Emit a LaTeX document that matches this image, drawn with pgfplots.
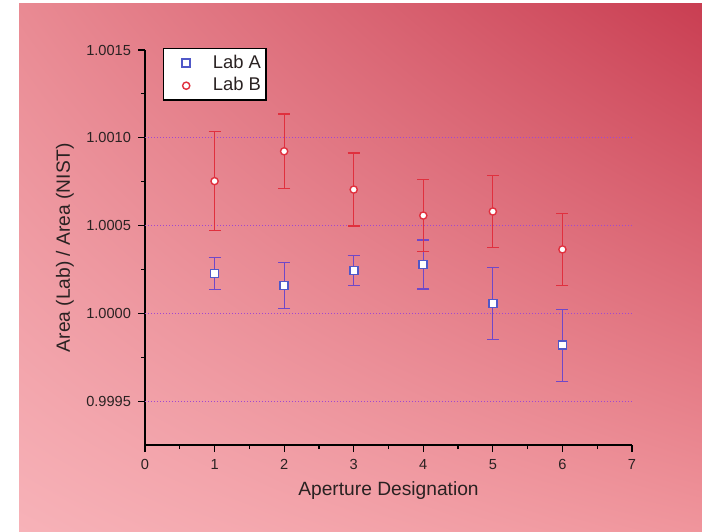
\documentclass[border=0pt]{standalone}
\usepackage{pgfplots}
\pgfplotsset{compat=1.18}
\usetikzlibrary{shadings}
\usepackage{fontspec}
\setmainfont{Liberation Sans}
\definecolor{bgUL}{HTML}{E98A93}
\definecolor{bgUR}{HTML}{C93E52}
\definecolor{bgLL}{HTML}{F7B2B8}
\definecolor{bgLR}{HTML}{F0959C}
\definecolor{blueA}{HTML}{5058C8}
\definecolor{blueE}{HTML}{7048C8}
\definecolor{redB}{HTML}{E0303E}
\definecolor{gridc}{HTML}{A048D0}
\definecolor{txt}{HTML}{2A2222}
\begin{document}
\begin{tikzpicture}
\fill[white] (0,0) rectangle (351pt,265.5pt);
\shade[upper left=bgUL, upper right=bgUR, lower left=bgLL, lower right=bgLR] (9.5pt,0) rectangle (351pt,263.5pt);
\begin{axis}[
  at={(72.5pt,43pt)}, anchor=south west,
  scale only axis, width=243.5pt, height=197.5pt,
  xmin=0, xmax=7, ymin=0.99925, ymax=1.0015,
  axis lines=left,
  axis line style={-, line width=0.7pt, black},
  xtick={0,1,...,7}, minor x tick num=1,
  ytick={0.9995,1,1.0005,1.001,1.0015}, minor y tick num=1,
  tick align=outside,
  major tick length=3.5pt, minor tick length=2pt,
  tick style={black, line width=0.6pt},
  scaled y ticks=false,
  yticklabel style={/pgf/number format/.cd, fixed, fixed zerofill, precision=4},
  /pgf/number format/assume math mode=true,
  tick label style={font=\fontsize{7.3}{8}\selectfont, text=txt},
  xlabel={Aperture Designation},
  ylabel={Area (Lab) / Area (NIST)},
  label style={font=\fontsize{9.6}{11}\selectfont, text=txt},
  xlabel style={at={(axis description cs:0.5,-0.1165)}, anchor=center},
  ylabel style={at={(axis description cs:-0.1643,0.5)}, anchor=center},
  legend style={at={(0.037,1.005)}, anchor=north west, draw=black, line width=0.6pt,
    fill=white, font=\fontsize{9.2}{11}\selectfont, text=txt,
    inner xsep=2.5pt, inner ysep=1.5pt, row sep=0pt,
    nodes={inner ysep=1.6pt, inner xsep=0pt},
    /tikz/every odd column/.append style={column sep=4.5pt},
    /tikz/every even column/.append style={column sep=0pt}},
  legend image code/.code={\path (0pt,0pt) (17pt,0pt); \draw[mark repeat=2, mark phase=2, #1] plot coordinates {(0pt,0pt) (8.5pt,0pt) (17pt,0pt)};},
  legend cell align=left,
  clip=false,
]
\addplot[gridc, line width=0.6pt, dash pattern=on 0.6pt off 0.9pt, forget plot] coordinates {(0,0.9995) (7,0.9995)};
\addplot[gridc, line width=0.6pt, dash pattern=on 0.6pt off 0.9pt, forget plot] coordinates {(0,1.0000) (7,1.0000)};
\addplot[gridc, line width=0.6pt, dash pattern=on 0.6pt off 0.9pt, forget plot] coordinates {(0,1.0005) (7,1.0005)};
\addplot[gridc, line width=0.6pt, dash pattern=on 0.6pt off 0.9pt, forget plot] coordinates {(0,1.0010) (7,1.0010)};

\addplot[only marks, mark=square*, mark size=2pt,
  mark options={fill=white, draw=blueA, line width=0.8pt},
  error bars/.cd, y dir=both, y explicit,
  error bar style={color=blueE, line width=0.6pt},
  error mark options={rotate=90, mark size=3pt, line width=0.6pt, blueE}]
coordinates {
 (1,1.000227) +- (0,0.000093)
 (2,1.000159) +- (0,0.000131)
 (3,1.000244) +- (0,0.000086)
 (4,1.000278) +- (0,0.000140)
 (5,1.000057) +- (0,0.000205)
 (6,0.999818) +- (0,0.000205)
};
\addlegendentry{Lab A}

\addplot[only marks, mark=*, mark size=1.8pt,
  mark options={fill=white, draw=redB, line width=0.7pt},
  error bars/.cd, y dir=both, y explicit,
  error bar style={color=redB, line width=0.6pt},
  error mark options={rotate=90, mark size=3pt, line width=0.6pt, redB}]
coordinates {
 (1,1.000753) +- (0,0.000281)
 (2,1.000923) +- (0,0.000213)
 (3,1.000705) +- (0,0.000208)
 (4,1.000557) +- (0,0.000204)
 (5,1.000580) +- (0,0.000205)
 (6,1.000364) +- (0,0.000205)
};
\addlegendentry{Lab B}
\end{axis}
\end{tikzpicture}
\end{document}
